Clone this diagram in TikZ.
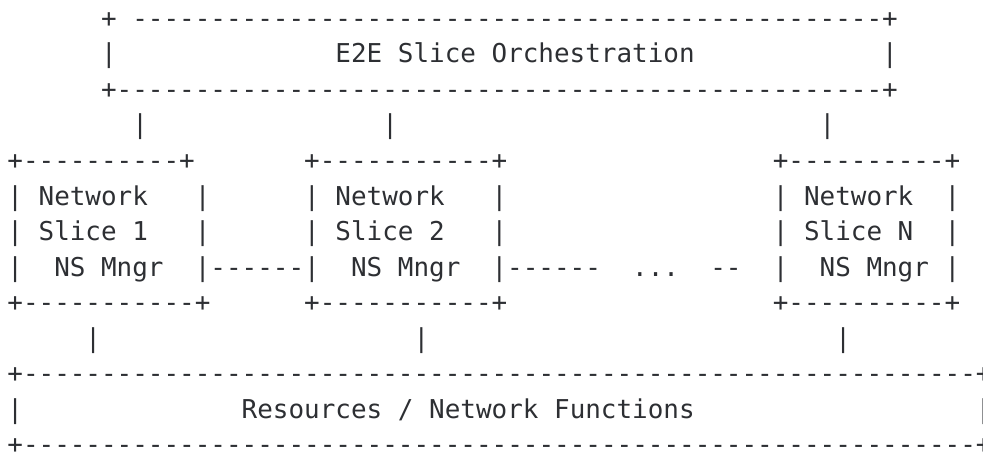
\documentclass[tikz,border=0pt]{standalone}
\usepackage{fontspec}
\setmonofont{DejaVu Sans Mono}
\usetikzlibrary{positioning}
\definecolor{inkGray}{RGB}{45,47,51}
\newcommand{\dashrun}[1]{\foreach \k in {1,...,#1}{-}}

\begin{document}
\begin{tikzpicture}[x=15.62pt,y=-35.5pt,
    ascii/.style={font=\ttfamily\fontsize{25.95pt}{35.5pt}\selectfont,text=inkGray,inner sep=0pt,anchor=base west}
  ]
  \useasboundingbox (-7.19pt,27.5pt) rectangle (975.81pt,-424.5pt);

  % orchestration box
  \node[ascii] (orchTopA) at (6,0) {+};
  \node[ascii] (orchTopB) at (8,0) {\dashrun{48}+};
  \node[ascii] (orchL) at (6,1) {|};
  \node[ascii] (orchText) at (21,1) {E2E Slice Orchestration};
  \node[ascii] (orchR) at (56,1) {|};
  \node[ascii] (orchBot) at (6,2) {+\dashrun{49}+};

  % links down to the slices
  \node[ascii] (upA) at (8,3) {|};
  \node[ascii] (upB) at (24,3) {|};
  \node[ascii] (upC) at (52,3) {|};

  % slice boxes
  \foreach \sl/\lc/\rc/\tn/\bn/\sid in {A/0/12/10/11/1, B/19/31/11/11/2, C/49/60/10/10/N} {
    \node[ascii] (top\sl) at (\lc,4) {+\dashrun{\tn}+};
    \node[ascii] (net\sl) at (\lc+2,5) {Network};
    \node[ascii] (sli\sl) at (\lc+2,6) {Slice \sid};
    \node[ascii] (mgr\sl) at (\lc+3,7) {NS Mngr};
    \node[ascii] (bot\sl) at (\lc,8) {+\dashrun{\bn}+};
    \foreach \row in {5,6,7} {
      \node[ascii] (lb\sl\row) at (\lc,\row) {|};
      \node[ascii] (rb\sl\row) at (\rc,\row) {|};
    }
  }

  % links between the managers
  \node[ascii] (linkAB) at (13,7) {\dashrun{6}};
  \node[ascii] (linkB) at (32,7) {\dashrun{6}};
  \node[ascii] (dots) at (40,7) {...};
  \node[ascii] (linkC) at (45,7) {--};

  % links down to the resources
  \node[ascii] (downA) at (5,9) {|};
  \node[ascii] (downB) at (26,9) {|};
  \node[ascii] (downC) at (53,9) {|};

  % resources box
  \node[ascii] (resTop) at (0,10) {+\dashrun{61}+};
  \node[ascii] (resL) at (0,11) {|};
  \node[ascii] (resText) at (15,11) {Resources / Network Functions};
  \node[ascii] (resR) at (62,11) {|};
  \node[ascii] (resBot) at (0,12) {+\dashrun{61}+};
\end{tikzpicture}
\end{document}
